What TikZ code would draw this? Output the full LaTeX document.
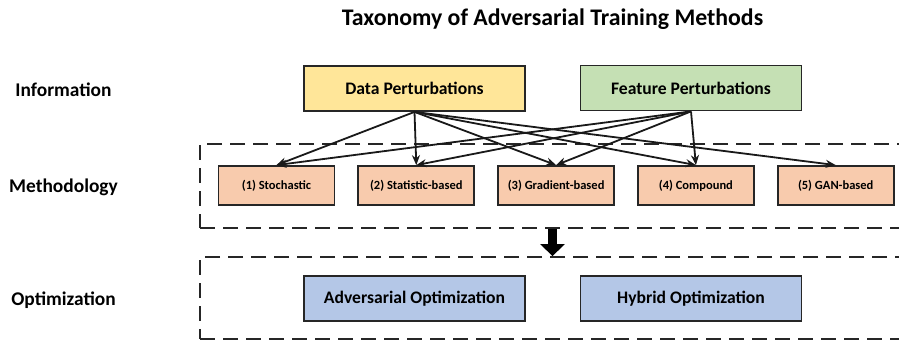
\documentclass[tikz,border=0pt]{standalone}
\usepackage{fontspec}
\setmainfont{Carlito}
\usepackage{xcolor}
\usepackage{tikz}
\usetikzlibrary{arrows.meta,positioning}

\definecolor{datafill}{HTML}{FFE699}
\definecolor{featfill}{HTML}{C5E0B4}
\definecolor{methfill}{HTML}{F8CBAD}
\definecolor{optfill}{HTML}{B4C7E7}

\begin{document}
\begin{tikzpicture}[
    x=1pt, y=-1pt,
    node distance=22pt,
    srcbox/.style={rectangle, draw=black!85, line width=1.8pt, align=center,
                   font=\fontsize{17.6}{20}\selectfont\bfseries, minimum width=221pt, minimum height=45pt},
    methbox/.style={rectangle, draw=black!85, line width=1.8pt, fill=methfill, align=center,
                    font=\fontsize{12.5}{14}\selectfont\bfseries, minimum width=116pt, minimum height=39pt},
    layer/.style={rectangle, draw=black!85, line width=1.8pt, dash pattern=on 15pt off 8pt,
                  minimum width=705pt},
    rowlabel/.style={anchor=base, font=\fontsize{19.4}{22}\selectfont\bfseries},
    arr/.style={->, >={Stealth[length=10pt, width=8pt]}, line width=1.8pt, black!90},
    bigarr/.style={-{Triangle[length=12pt, width=24pt]}, line width=9pt, black},
]
\useasboundingbox (0,0) rectangle (899,341);

\node[anchor=base, font=\fontsize{23.8}{27}\selectfont\bfseries] (title) at (552.5,25) {Taxonomy of Adversarial Training Methods};

% row labels
\node[rowlabel] (info) at (63.5,96) {Information};
\node[rowlabel] (methlbl) at (63.5,192.5) {Methodology};
\node[rowlabel] (optlbl) at (63.5,305.5) {Optimization};

% dashed layers
\node[layer, minimum height=84pt] (meth) at (552.5,186) {};
\node[layer, minimum height=82pt] (opt) at (552.5,298) {};

\node[srcbox, fill=datafill] (data) at (414.5,88.5) {Data Perturbations};
\node[srcbox, fill=featfill] (feat) at (691,88) {Feature Perturbations};

\node[methbox] (m1) at (276.5,185.5) {(1) Stochastic};
\node[methbox, right=of m1] (m2) {(2) Statistic-based};
\node[methbox, right=of m2] (m3) {(3) Gradient-based};
\node[methbox, right=of m3] (m4) {(4) Compound};
\node[methbox, right=of m4] (m5) {(5) GAN-based};

\node[srcbox, fill=optfill] (advopt) at (414.5,298.5) {Adversarial Optimization};
\node[srcbox, fill=optfill] (hybopt) at (691,298.5) {Hybrid Optimization};

\draw[arr] (data.south) -- (m1.north);
\draw[arr] (data.south) -- (m2.north);
\draw[arr] (data.south) -- (m3.north);
\draw[arr] (data.south) -- (m4.north);
\draw[arr] (data.south) -- (m5.north);
\draw[arr] (feat.south) -- (m1.north);
\draw[arr] (feat.south) -- (m2.north);
\draw[arr] (feat.south) -- (m3.north);
\draw[arr] (feat.south) -- (m4.north);

\draw[bigarr] (meth.south) -- (opt.north);
\end{tikzpicture}
\end{document}
